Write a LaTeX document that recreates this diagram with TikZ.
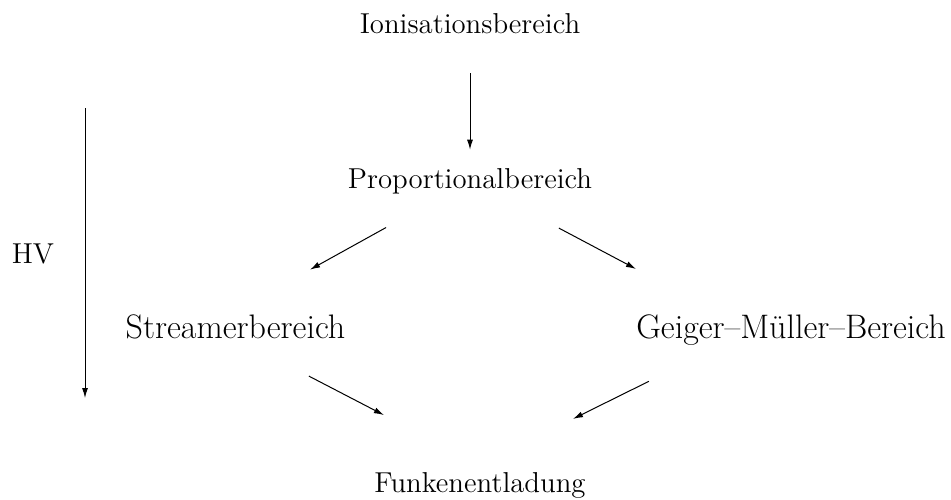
\documentclass[tikz,border=0pt]{standalone}
\usepackage{tikz}
\usetikzlibrary{arrows.meta, calc}
\tikzset{
  bereich/.style={anchor=base, font=\Large, text height=10pt, text depth=3pt},
  breit/.style={bereich, font=\fontsize{17}{20}\selectfont},
  arr/.style={-{Latex[length=5pt, width=3pt]}, line width=0.5pt},
}
\begin{document}
\begin{tikzpicture}[x=0.5pt, y=-0.5pt]
\useasboundingbox (0,0) rectangle (951,499);

\node[bereich] (ion) at (470,33) {Ionisationsbereich};
\node[bereich] (prop) at (470,188) {Proportionalbereich};
\node[breit] (stream) at (235.5,338) {Streamerbereich};
\node[breit] (gmb) at (791,338) {Geiger\textendash M\"uller\textendash Bereich};
\node[bereich] (funk) at (480,492) {Funkenentladung};
\node[bereich] (hv) at (33,263) {HV};

\draw[arr] ($(ion.south)!0.236!(prop.north)$) -- ($(ion.south)!0.902!(prop.north)$);
\draw[arr] ($(prop.center)!0.358!(stream.north)$) -- ($(prop.center)!0.682!(stream.north)$);
\draw[arr] ($(prop.center)!0.277!(gmb.south)$) -- ($(prop.center)!0.517!(gmb.south)$);
\draw[arr] ($(stream.base)!0.30!(funk.north)$) -- ($(stream.base)!0.607!(funk.north)$);
\draw[arr] ($(gmb.north)!0.457!(funk.north)$) -- ($(gmb.north)!0.701!(funk.north)$);

% HV axis
\coordinate (hvtop) at (85,108);
\coordinate (hvbot) at (85,398);
\draw[arr] (hvtop) -- (hvbot);

\end{tikzpicture}
\end{document}
